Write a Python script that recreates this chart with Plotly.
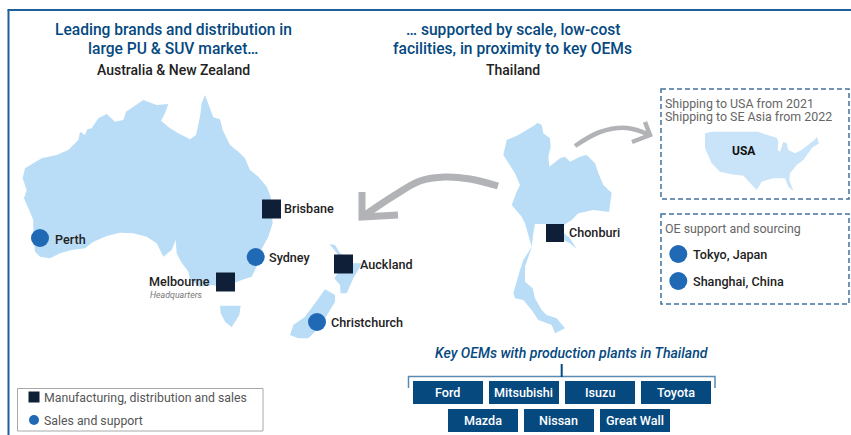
import plotly.graph_objects as go

W, H = 851, 435
FONT = "Roboto"
LAND = "#b9ddf6"
USA_LAND = "#c9e4f8"
NAVY = "#0f1f38"
DOT = "#2069b5"
BLUE = "#05497f"
GREY_ARROW = "#b2b3b6"

# traced outlines: [(x, y)] in zoom-crop units
AUS = [(615,45),(625,70),(635,100),(640,112),(660,118),(668,150),(690,195),(715,215),(735,235),(750,270),(775,290),(800,320),(812,350),(815,400),(818,430),(805,470),(790,500),(775,525),(770,560),(755,590),(725,600),(700,610),(670,625),(640,615),(600,620),(570,600),(565,575),(545,548),(530,520),(527,480),(515,510),(490,530),(470,490),(440,470),(400,460),(360,458),(320,468),(280,485),(255,505),(215,510),(180,520),(150,535),(120,530),(105,515),(100,470),(100,420),(85,385),(72,355),(80,330),(68,295),(75,265),(100,250),(125,235),(170,225),(205,210),(235,180),(240,155),(255,165),(262,148),(275,145),(295,115),(320,102),(345,125),(370,120),(378,95),(430,60),(470,75),(505,72),(495,100),(483,122),(510,145),(535,160),(570,178),(588,165),(600,110),(605,70)]
TAS = [(660,677),(722,677),(718,705),(695,742),(675,725),(662,700)]
NZ_N = [(988,492),(1005,495),(1020,520),(1035,530),(1060,550),(1085,550),(1075,570),(1060,595),(1040,640),(1022,640),(1020,615),(1003,595),(1020,570),(1030,555),(1015,525)]
NZ_S = [(975,628),(1005,645),(1005,665),(985,700),(960,740),(925,775),(895,775),(870,765),(880,735),(915,710),(945,670)]
THA = [(172,38),(185,45),(190,70),(210,85),(212,110),(205,140),(208,170),(240,145),(255,140),(270,155),(300,140),(320,135),(345,160),(355,190),(370,225),(395,249),(387,306),(340,300),(295,310),(275,330),(252,345),(252,370),(270,385),(290,418),(270,400),(250,390),(198,395),(198,342),(165,342),(160,370),(155,412),(150,425),(135,470),(135,515),(158,535),(165,565),(185,600),(200,615),(230,625),(255,655),(225,670),(215,645),(175,630),(155,600),(130,570),(105,565),(100,550),(120,480),(130,450),(155,410),(135,340),(125,320),(95,285),(110,245),(120,225),(105,190),(70,135),(80,90),(115,75),(165,45)]
USA = [(150,145),(172,140),(310,140),(330,148),(365,158),(370,170),(368,195),(375,200),(385,170),(395,175),(400,195),(420,205),(440,195),(465,175),(478,165),(485,155),(492,175),(470,190),(460,205),(445,225),(425,240),(405,265),(403,285),(415,318),(400,305),(390,280),(355,280),(320,290),(305,315),(285,295),(265,272),(230,268),(195,260),(170,235),(150,190)]

BIG_ARROW = [(498,186),(470,179),(445,177),(420,181),(395,195),(362,217)]
BIG_HEAD = [(362,192),(362,217),(398,215)]
SMALL_ARROW = [(575,146),(600,132),(627,128),(650,135)]
SMALL_HEAD = [(645,122),(650,135),(632,142)]

MFG_NAMES = ["Brisbane", "Melbourne", "Auckland", "Chonburi"]
MFG_X = [271.5, 225.5, 343.5, 555]
MFG_Y = [209, 282, 264, 233]
SALES_NAMES = ["Perth", "Sydney", "Christchurch", "Tokyo, Japan", "Shanghai, China"]
SALES_X = [40, 255.7, 317, 678.3, 678.3]
SALES_Y = [238, 257, 322, 254, 281]
LABEL_X = {"Brisbane":281.5,"Auckland":357.5,"Chonburi":566.5,"Perth":52.5,"Sydney":266.5,"Christchurch":328.5,"Tokyo, Japan":690.5,"Shanghai, China":690.5}
LABEL_Y = {"Brisbane":208.5,"Auckland":264.5,"Chonburi":232.5,"Perth":239.5,"Sydney":257.5,"Christchurch":322.5,"Tokyo, Japan":254.5,"Shanghai, China":281.5}

OEM_ROW1 = ["Ford", "Mitsubishi", "Isuzu", "Toyota"]
OEM_ROW1_X = [413, 489, 565, 641]
OEM_ROW2 = ["Mazda", "Nissan", "Great Wall"]
OEM_ROW2_X = [448, 524, 600]

fig = go.Figure()

def poly(points, sx, sy, ox, oy, color):
    fig.add_trace(go.Scatter(x=[ox + p[0] / sx for p in points], y=[oy + p[1] / sy for p in points],
                             mode="lines", fill="toself", fillcolor=color, line=dict(width=0, color=color),
                             hoverinfo="skip", showlegend=False))

poly(AUS, 3, 3, 0, 80, LAND)
poly(TAS, 3, 3, 0, 80, LAND)
poly(NZ_N, 3, 3, 0, 80, LAND)
poly(NZ_S, 3, 3, 0, 80, LAND)
poly(THA, 3, 3, 480, 110, LAND)
poly(USA, 3, 3, 655, 85, USA_LAND)

def curve(points, width, smooth):
    fig.add_trace(go.Scatter(x=[p[0] for p in points], y=[p[1] for p in points], mode="lines",
                             line=dict(color=GREY_ARROW, width=width, shape="spline" if smooth else "linear"),
                             hoverinfo="skip", showlegend=False))

curve(BIG_ARROW, 7, True)
curve(BIG_HEAD, 7, False)
curve(SMALL_ARROW, 4.5, True)
curve(SMALL_HEAD, 4.5, False)

fig.add_trace(go.Scatter(x=MFG_X + [34], y=MFG_Y + [397], mode="markers",
                         marker=dict(symbol="square", color=NAVY, size=[19, 19, 19, 18, 11], opacity=1, line=dict(width=0)),
                         hoverinfo="skip", showlegend=False))
fig.add_trace(go.Scatter(x=SALES_X + [34], y=SALES_Y + [420], mode="markers",
                         marker=dict(symbol="circle", color=DOT, size=[18, 18, 18, 18, 18, 10], opacity=1, line=dict(width=0)),
                         hoverinfo="skip", showlegend=False))

shapes = []
# frame
shapes.append(dict(type="line", x0=8.5, x1=8.5, y0=10, y1=435, line=dict(color="#1e5f99", width=2)))
shapes.append(dict(type="line", x0=7.5, x1=851, y0=10, y1=10, line=dict(color="#1e5f99", width=2)))
# dashed boxes
for y0, y1 in [(89, 199), (214, 304)]:
    shapes.append(dict(type="rect", x0=661, x1=849, y0=y0, y1=y1, line=dict(color="#3f739e", width=1.5, dash="5px,3px")))
# legend box
shapes.append(dict(type="rect", x0=17.5, x1=263, y0=388.5, y1=431, line=dict(color="#a8a8a8", width=1)))
# bracket
shapes.append(dict(type="path", path="M 408.5 388 L 408.5 376.5 L 715 376.5 L 715 388", line=dict(color="#5b8bb0", width=1.5)))
shapes.append(dict(type="line", x0=561.7, x1=561.7, y0=364, y1=377, line=dict(color=BLUE, width=2)))
# OEM boxes
for xs, y0 in [(OEM_ROW1_X, 381), (OEM_ROW2_X, 409)]:
    for x in xs:
        shapes.append(dict(type="rect", x0=x, x1=x + 70, y0=y0, y1=y0 + 23, fillcolor=BLUE, line=dict(width=0)))

ann = []
def text(x, y, s, size=12, color="#222222", anchor="left", weight=400, style="normal"):
    ann.append(dict(x=x, y=y, text=s, showarrow=False, xanchor=anchor, yanchor="middle", xref="x", yref="y",
                    font=dict(family=FONT, size=size, color=color, weight=weight, style=style)))

text(173, 30, "Leading brands and distribution in", 15.6, BLUE, "center", 500)
text(173, 49, "large PU &amp; SUV market…", 15.6, BLUE, "center", 500)
text(173, 70, "Australia &amp; New Zealand", 14, "#222222", "center", 500)
text(512.5, 30, "… supported by scale, low-cost", 15.6, BLUE, "center", 500)
text(512.5, 49, "facilities, in proximity to key OEMs", 15.6, BLUE, "center", 500)
text(512.5, 70, "Thailand", 14, "#222222", "center", 500)
for name in LABEL_X:
    text(LABEL_X[name], LABEL_Y[name], name, 12.6, "#222222", "left", 500)
text(211.5, 281, "Melbourne", 12.6, "#222222", "right", 500)
text(147.5, 294.5, "Headquarters", 8.8, "#777777", "left", 400, "italic")
text(743.5, 150.5, "USA", 12, "#111111", "center", 700)
text(662.5, 103.5, "Shipping to USA from 2021", 12.4, "#666666")
text(662.5, 116.5, "Shipping to SE Asia from 2022", 12.4, "#666666")
text(662.5, 228.5, "OE support and sourcing", 12.4, "#666666")
text(41.5, 397.5, "Manufacturing, distribution and sales", 12.3, "#555555")
text(41.5, 420.5, "Sales and support", 12.3, "#555555")
text(571, 353, "Key OEMs with production plants in Thailand", 14.1, BLUE, "center", 500, "italic")
for xs, names, yc in [(OEM_ROW1_X, OEM_ROW1, 392.5), (OEM_ROW2_X, OEM_ROW2, 420.5)]:
    for x, n in zip(xs, names):
        text(x + 34.5, yc, n, 12.6, "#ffffff", "center", 500)

fig.update_layout(width=W, height=H, autosize=False, margin=dict(l=0, r=0, t=0, b=0),
                  paper_bgcolor="white", plot_bgcolor="white", shapes=shapes, annotations=ann,
                  xaxis=dict(range=[0, W], visible=False, fixedrange=True),
                  yaxis=dict(range=[H, 0], visible=False, fixedrange=True),
                  showlegend=False)
fig.write_html("out.html", config=dict(displayModeBar=False),
               post_script="document.body.style.margin='0';document.documentElement.style.overflow='hidden';")
